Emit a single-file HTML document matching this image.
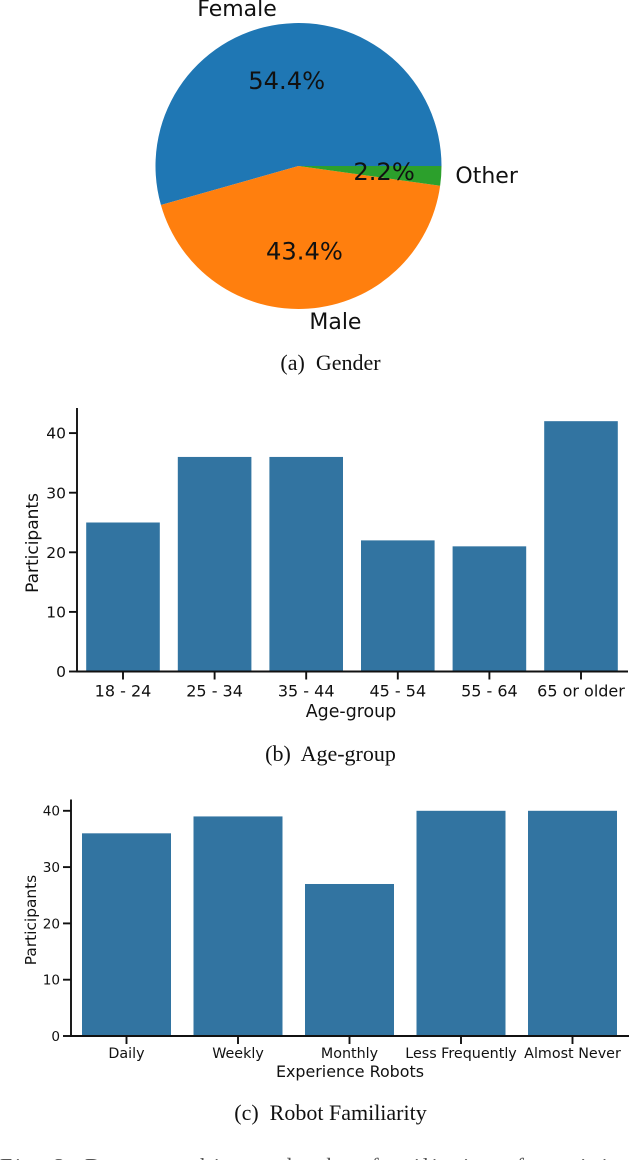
<!DOCTYPE html>
<html lang="en">
<head>
<meta charset="utf-8">
<title>Demographics and robot familiarity</title>
<style>
html,body{margin:0;padding:0;background:#fff;width:630px;height:1160px;overflow:hidden}
svg{display:block}
.dj{font-family:"DejaVu Sans",sans-serif;fill:#111}
.cap{font-family:"Liberation Serif",serif;fill:#111;font-size:22px}
</style>
</head>
<body>
<svg id="fig" xmlns="http://www.w3.org/2000/svg" width="630" height="1160" viewBox="0 0 630 1160">
<text class="cap" x="330.5" y="370" text-anchor="middle" xml:space="preserve">(a)  Gender</text>
<text class="cap" x="330.5" y="761" text-anchor="middle" xml:space="preserve">(b)  Age-group</text>
<text class="cap" x="330.5" y="1120" text-anchor="middle" xml:space="preserve">(c)  Robot Familiarity</text>
<text x="0" y="1173.5" textLength="668" style="font-family:'Liberation Serif',serif;font-size:22px;fill:#555">Fig. 2: Demographics and robot familiarity of participants</text>
</svg>
<script>
const pieLabels = ['Female', 'Male', 'Other'];
const pieValues = [54.4, 43.4, 2.2];
const pieColors = ['#1f77b4', '#ff7f0e', '#2ca02c'];

const ageCategories = ['18 - 24', '25 - 34', '35 - 44', '45 - 54', '55 - 64', '65 or older'];
const ageValues = [25, 36, 36, 22, 21, 42];
const ageTicks = [0, 10, 20, 30, 40];

const robotCategories = ['Daily', 'Weekly', 'Monthly', 'Less Frequently', 'Almost Never'];
const robotValues = [36, 39, 27, 40, 40];
const robotTicks = [0, 10, 20, 30, 40];

const svg = document.getElementById('fig');
const NS = 'http://www.w3.org/2000/svg';
function mk(tag, attrs, text) {
  const el = document.createElementNS(NS, tag);
  for (const k in attrs) el.setAttribute(k, attrs[k]);
  if (text !== undefined) el.textContent = text;
  svg.appendChild(el);
  return el;
}

/* Pie chart */
const cx = 298.5, cy = 166, R = 143;
const pieTotal = pieValues.reduce((a, b) => a + b, 0);
function polar(deg, r) {
  const a = deg * Math.PI / 180;
  return [cx + r * Math.cos(a), cy - r * Math.sin(a)];
}
let startAngle = 0;
const pieMids = [];
pieValues.forEach((v, i) => {
  const sweep = v / pieTotal * 360;
  const p0 = polar(startAngle, R), p1 = polar(startAngle + sweep, R);
  const large = sweep > 180 ? 1 : 0;
  const w = mk('path', {
    d: `M${cx} ${cy}L${p0[0]} ${p0[1]}A${R} ${R} 0 ${large} 0 ${p1[0]} ${p1[1]}Z`,
    fill: pieColors[i]
  });
  
  
  pieMids.push(startAngle + sweep / 2);
  startAngle += sweep;
});
pieValues.forEach((v, i) => {
  const mid = pieMids[i];
  const pp = polar(mid, R * 0.6);
  const pct = mk('text', {
    class: 'dj', x: pp[0], y: pp[1] + 8, 'text-anchor': 'middle', 'font-size': 24.2
  }, v.toFixed(1) + '%');
  
  
  const lp = polar(mid, R * 1.1);
  const anchor = Math.cos(mid * Math.PI / 180) < 0 ? 'end' : 'start';
  const lab = mk('text', {
    class: 'dj', x: lp[0], y: lp[1] + 6, 'text-anchor': anchor, 'font-size': 22
  }, pieLabels[i]);
  
  
});

/* Bar charts */
function barChart(o) {
  const yPos = v => o.base - v * o.unit;
  const xPos = i => o.first + i * o.step;
  o.values.forEach((v, i) => {
    const b = mk('rect', {
      x: xPos(i) - o.barW / 2, y: yPos(v), width: o.barW, height: o.base - yPos(v), fill: '#3274a1'
    });
    
    
  });
  const ya = mk('line', { x1: o.axisX, x2: o.axisX, y1: o.top, y2: o.base + 1, stroke: '#111', 'stroke-width': 1.9 });
  
  
  const xa = mk('line', { x1: o.axisX - 0.9, x2: o.right, y1: o.base, y2: o.base, stroke: '#111', 'stroke-width': 1.9 });
  
  
  o.ticks.forEach(t => {
    const y = yPos(t);
    const tk = mk('line', { x1: o.axisX - 8, x2: o.axisX, y1: y, y2: y, stroke: '#111', 'stroke-width': 1.9 });
    
    
    const tl = mk('text', {
      class: 'dj', x: o.axisX - 11, y: y + o.yTickSize * 0.36, 'text-anchor': 'end', 'font-size': o.yTickSize
    }, String(t));
    
    
  });
  o.categories.forEach((c, i) => {
    const x = xPos(i);
    const tk = mk('line', { x1: x, x2: x, y1: o.base, y2: o.base + 8, stroke: '#111', 'stroke-width': 1.9 });
    
    
    const tl = mk('text', {
      class: 'dj', x: x, y: o.base + o.tickDy, 'text-anchor': 'middle', 'font-size': o.xTickSize
    }, c);
    
    
  });
  const xt = mk('text', {
    class: 'dj', x: o.xTitleX, y: o.xTitleY, 'text-anchor': 'middle', 'font-size': o.titleSize
  }, o.xTitle);
  
  
  const yt = mk('text', {
    class: 'dj', x: 0, y: 0, 'text-anchor': 'middle', 'font-size': o.yTitleSize,
    transform: `translate(${o.yTitleX} ${o.yTitleY}) rotate(-90)`
  }, 'Participants');
  
  
}

barChart({
  id: 'age', categories: ageCategories, values: ageValues, ticks: ageTicks,
  base: 671.5, unit: 5.96, first: 123, step: 91.6, barW: 73.6,
  axisX: 77, top: 408, right: 628, xTickSize: 16, yTickSize: 15.5, tickDy: 25,
  xTitle: 'Age-group', xTitleX: 351, xTitleY: 717, titleSize: 17.4,
  yTitleX: 38, yTitleY: 543, yTitleSize: 17
});
barChart({
  id: 'robot', categories: robotCategories, values: robotValues, ticks: robotTicks,
  base: 1036, unit: 5.63, first: 126.5, step: 111.5, barW: 89,
  axisX: 71, top: 799.5, right: 629, xTickSize: 14.3, yTickSize: 13.6, tickDy: 22,
  xTitle: 'Experience Robots', xTitleX: 350, xTitleY: 1077, titleSize: 15.9,
  yTitleX: 36, yTitleY: 920, yTitleSize: 15.4
});
</script>
</body>
</html>
